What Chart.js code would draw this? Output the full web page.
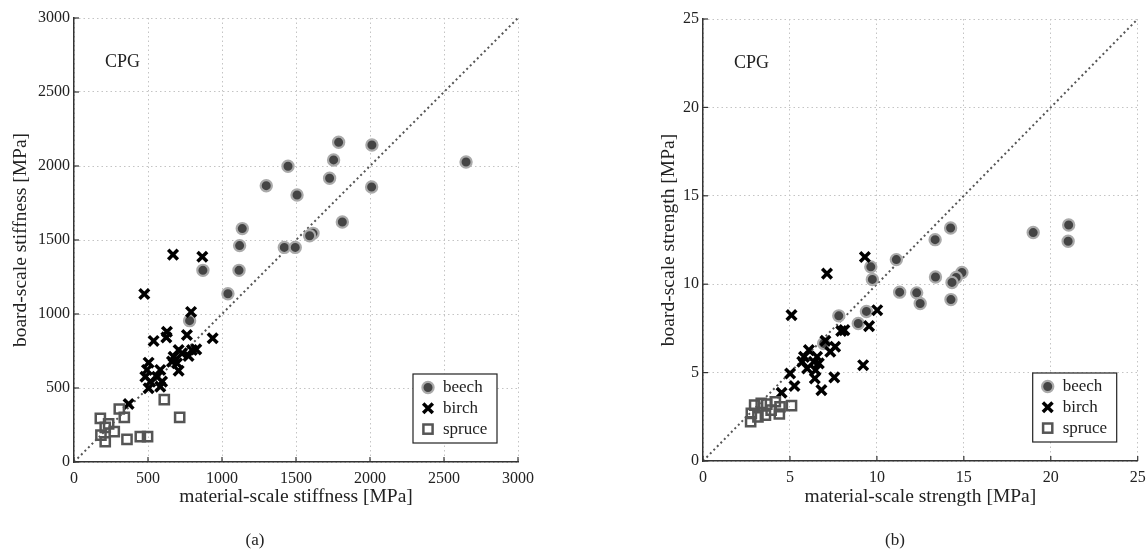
<!DOCTYPE html>
<html><head><meta charset="utf-8">
<script src="https://cdn.jsdelivr.net/npm/chart.js@4.4.0/dist/chart.umd.min.js"></script>
<style>
html,body{margin:0;padding:0;background:#fff;width:1148px;height:549px;overflow:hidden;}
canvas{position:absolute;top:0;}
#c1{left:0;}
#c2{left:629px;}
</style></head><body>
<canvas id="c1" width="574" height="549"></canvas>
<canvas id="c2" width="519" height="549"></canvas>
<script>
// ---------- data (a): stiffness ----------
const beechStiffMat   = [2649,2013,2011,1788,1754,1727,1813,1615,1592,1507,1446,1299,1421,1495,1137,1119,1115,871,1040,781];
const beechStiffBoard = [2027,2142,1858,2160,2041,1917,1622,1545,1529,1804,1998,1867,1450,1450,1577,1462,1295,1295,1137,955];
const birchStiffMat   = [669,867,475,791,937,538,628,624,763,707,673,730,797,826,774,662,696,707,504,493,583,482,561,516,595,504,583,369];
const birchStiffBoard = [1401,1387,1135,1014,836,818,880,842,858,757,711,734,757,761,716,678,667,617,671,622,622,576,576,543,543,498,509,392];
const spruceStiffMat   = [610,714,178,306,340,234,211,272,182,211,358,448,497];
const spruceStiffBoard = [421,302,295,358,302,257,234,205,182,137,153,171,171];
const stiffTicks = ['0','500','1000','1500','2000','2500','3000'];
const stiffRange = [0, 3000];

// ---------- data (b): strength ----------
const beechStrMat   = [21.03,21.0,18.99,14.24,13.35,11.12,14.89,14.56,14.32,13.37,11.31,12.29,12.49,14.26,9.65,9.74,7.81,9.4,8.93,6.94];
const beechStrBoard = [13.35,12.43,12.92,13.18,12.52,11.39,10.66,10.38,10.1,10.41,9.55,9.51,8.91,9.13,10.98,10.27,8.21,8.46,7.78,6.65];
const birchStrMat   = [9.31,7.13,5.09,10.02,9.55,8.13,7.95,7.04,7.6,7.32,6.09,5.81,6.56,5.71,6.37,6.66,5.99,6.47,6.43,7.55,6.81,5.01,5.26,4.52,9.21];
const birchStrBoard = [11.54,10.6,8.25,8.53,7.63,7.4,7.35,6.8,6.46,6.18,6.27,5.89,5.89,5.61,5.61,5.52,5.24,5.14,4.67,4.73,4.01,4.95,4.24,3.86,5.42];
const spruceStrMat   = [2.74,2.97,3.16,3.35,3.59,3.67,4.16,4.39,4.43,5.09,3.92,2.78];
const spruceStrBoard = [2.22,3.16,2.5,3.26,2.6,3.22,3.35,2.66,3.07,3.13,2.88,2.69];
const strTicks = ['0','5','10','15','20','25'];
const strRange = [0, 25];

const seriesNames = ['beech','birch','spruce'];

const F = '"Liberation Serif", "DejaVu Serif", serif';
const TXT = '#222';

function pts(xs, ys){ return xs.map((x,i)=>({x:x, y:ys[i]})); }

function drawMarker(ctx, kind, x, y){
  ctx.save();
  if (kind === 'beech'){
    ctx.beginPath(); ctx.arc(x,y,5.6,0,Math.PI*2);
    ctx.fillStyle='#444'; ctx.fill();
    ctx.lineWidth=2.2; ctx.strokeStyle='#aaa'; ctx.stroke();
  } else if (kind === 'birch'){
    const d = 6.8*Math.SQRT1_2;
    ctx.lineWidth=3.5; ctx.strokeStyle='#000';
    ctx.beginPath(); ctx.moveTo(x-d,y-d); ctx.lineTo(x+d,y+d);
    ctx.moveTo(x+d,y-d); ctx.lineTo(x-d,y+d); ctx.stroke();
  } else {
    const s = 6.5*Math.SQRT1_2;
    ctx.lineWidth=2.5; ctx.strokeStyle='#555';
    ctx.strokeRect(x-s,y-s,2*s,2*s);
  }
  ctx.restore();
}

const decor = {
  id:'decor',
  afterDraw(chart, args, o){
    const ctx = chart.ctx, a = chart.chartArea;
    const xs = chart.scales.x, ys = chart.scales.y;
    ctx.save();
    // inward tick marks
    ctx.strokeStyle='#333'; ctx.lineWidth=1.2;
    xs.ticks.forEach(t=>{ const p = xs.getPixelForValue(t.value);
      ctx.beginPath(); ctx.moveTo(p,a.bottom); ctx.lineTo(p,a.bottom-5); ctx.stroke(); });
    ys.ticks.forEach(t=>{ const p = ys.getPixelForValue(t.value);
      ctx.beginPath(); ctx.moveTo(a.left,p); ctx.lineTo(a.left+5,p); ctx.stroke(); });
    // tag
    ctx.fillStyle=TXT; ctx.textBaseline='middle'; ctx.textAlign='left';
    ctx.font='18px '+F;
    ctx.fillText(o.tag, a.left+31, a.top+44);
    // legend
    const bw=84, bh=69, bx=a.right-21-bw, by=a.bottom-19-bh;
    ctx.fillStyle='#fff'; ctx.fillRect(bx,by,bw,bh);
    ctx.strokeStyle='#222'; ctx.lineWidth=1.2; ctx.strokeRect(bx,by,bw,bh);
    ctx.font='17px '+F;
    seriesNames.forEach((n,i)=>{
      const yy = by+13.5+i*20.8;
      drawMarker(ctx, n, bx+15, yy);
      ctx.fillStyle=TXT; ctx.fillText(n, bx+30, yy);
    });
    // caption
    ctx.textAlign='center'; ctx.font='17px '+F; ctx.fillStyle=TXT;
    ctx.fillText(o.caption, o.capX, o.capY);
    ctx.restore();
  }
};

function makeChart(id, cfg){
  const datasets = [
    {type:'line', data:[{x:cfg.range[0],y:cfg.range[0]},{x:cfg.range[1],y:cfg.range[1]}],
     borderColor:'#555', borderWidth:2, borderDash:[2,3], pointRadius:0, fill:false, order:4},
    {type:'scatter', label:'beech', data:pts(cfg.beech[0],cfg.beech[1]), pointStyle:'circle',
     pointRadius:5.6, backgroundColor:'#444', borderColor:'#aaa', borderWidth:2.2, order:3},
    {type:'scatter', label:'birch', data:pts(cfg.birch[0],cfg.birch[1]), pointStyle:'crossRot',
     pointRadius:6.8, backgroundColor:'#000', borderColor:'#000', borderWidth:3.5, order:2},
    {type:'scatter', label:'spruce', data:pts(cfg.spruce[0],cfg.spruce[1]), pointStyle:'rect',
     pointRadius:6.5, backgroundColor:'rgba(255,255,255,0)', borderColor:'#555', borderWidth:2.5, order:1}
  ];
  const step = cfg.range[1]/(cfg.ticks.length-1);
  const lab = v => { const i = Math.round(v/step); return cfg.ticks[i] !== undefined ? cfg.ticks[i] : ''; };
  return new Chart(document.getElementById(id), {
    type:'scatter',
    data:{datasets},
    options:{
      responsive:false, animation:false, devicePixelRatio:1, events:[],
      layout:{padding:{top:cfg.padTop, right:cfg.padRight, left:0, bottom:0}},
      plugins:{legend:{display:false}, tooltip:{enabled:false}, decor:cfg.decor},
      scales:{
        x:{type:'linear', min:cfg.range[0], max:cfg.range[1],
           ticks:{stepSize:step, color:TXT, font:{family:F,size:16}, padding:7, maxRotation:0, autoSkip:false, callback:lab},
           grid:{color:'#c4c4c4', lineWidth:1, drawTicks:false},
           border:{display:true, color:'#333', width:1.5, dash:[1.5,3]},
           title:{display:true, text:cfg.xTitle, color:TXT, font:{family:F,size:19.5}, padding:{top:0,bottom:40}},
           afterFit(s){ s.height = cfg.xH; s.paddingLeft=0; s.paddingRight=0; }},
        y:{type:'linear', min:cfg.range[0], max:cfg.range[1],
           ticks:{stepSize:step, color:TXT, font:{family:F,size:16}, padding:4, autoSkip:false, callback:lab},
           grid:{color:'#c4c4c4', lineWidth:1, drawTicks:false},
           border:{display:true, color:'#333', width:1.5, dash:[1.5,3]},
           title:{display:true, text:cfg.yTitle, color:TXT, font:{family:F,size:19.5}, padding:{top:cfg.yTitlePad,bottom:0}},
           afterFit(s){ s.width = 74; s.paddingTop=0; s.paddingBottom=0; }}
      }
    },
    plugins:[decor]
  });
}

makeChart('c1', {
  range:stiffRange, ticks:stiffTicks,
  beech:[beechStiffMat,beechStiffBoard], birch:[birchStiffMat,birchStiffBoard], spruce:[spruceStiffMat,spruceStiffBoard],
  xTitle:'material-scale stiffness [MPa]', yTitle:'board-scale stiffness [MPa]',
  padTop:18, padRight:56, xH:87, yTitlePad:9,
  decor:{tag:'CPG', caption:'(a)', capX:255, capY:541}
});
makeChart('c2', {
  range:strRange, ticks:strTicks,
  beech:[beechStrMat,beechStrBoard], birch:[birchStrMat,birchStrBoard], spruce:[spruceStrMat,spruceStrBoard],
  xTitle:'material-scale strength [MPa]', yTitle:'board-scale strength [MPa]',
  padTop:19, padRight:5, xH:88, yTitlePad:28,
  decor:{tag:'CPG', caption:'(b)', capX:266, capY:541}
});
</script>
</body></html>
